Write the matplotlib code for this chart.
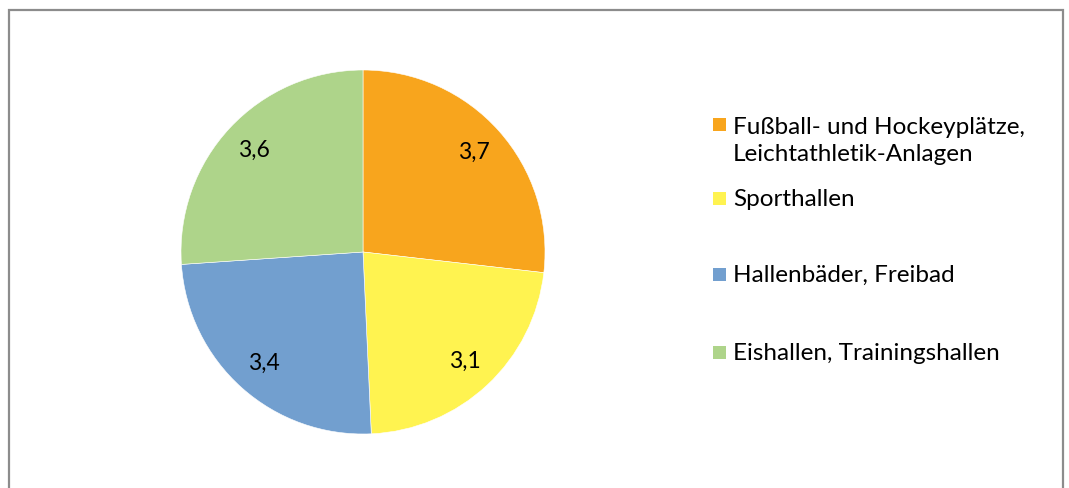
import matplotlib.pyplot as plt
from matplotlib.patches import Rectangle

plt.rcParams['font.family'] = ['Lato', 'DejaVu Sans']

# data
labels = ["Fußball- und Hockeyplätze,\nLeichtathletik-Anlagen", "Sporthallen",
          "Hallenbäder, Freibad", "Eishallen, Trainingshallen"]
values = [3.7, 3.1, 3.4, 3.6]
colors = ["#F8A51D", "#FFF350", "#729FCF", "#AED48A"]

W, H = 1069, 488
fig = plt.figure(figsize=(W / 100, H / 100), dpi=100)

# outer frame (bottom edge runs off the picture, as in the original)
fig.patches.append(Rectangle((9 / W, -0.05), 1054 / W, 1.05 - 10 / H, transform=fig.transFigure,
                             fill=False, edgecolor="#8c8c8c", linewidth=1.6))

cx, cy, r = 363, 252, 182
ax = fig.add_axes([(cx - r) / W, (H - cy - r) / H, 2 * r / W, 2 * r / H])
wedges, texts = ax.pie(values, colors=colors, startangle=90, counterclock=False,
                       labels=[f"{v:.1f}".replace(".", ",") for v in values],
                       labeldistance=0.82,
                       wedgeprops=dict(edgecolor="white", linewidth=0.4),
                       textprops=dict(fontsize=16.5, ha="center", va="center"))
ax.set_aspect("equal")
ax.set_xlim(-1, 1)
ax.set_ylim(-1, 1)
ax.axis("off")

# legend placed by hand (irregular spacing as in the original)
legend_y = [141, 199, 275, 353]
for lab, col, y in zip(labels, colors, legend_y):
    nlines = lab.count("\n") + 1
    sq_y = y - (nlines - 1) * 16
    fig.patches.append(Rectangle((713 / W, 1 - (sq_y + 6) / H), 13 / W, 13 / H,
                                 transform=fig.transFigure, facecolor=col, edgecolor="none"))
    fig.text(733 / W, 1 - y / H, lab, fontsize=17.5, ha="left", va="center", linespacing=1.4)

fig.savefig("out.png", dpi=100)
